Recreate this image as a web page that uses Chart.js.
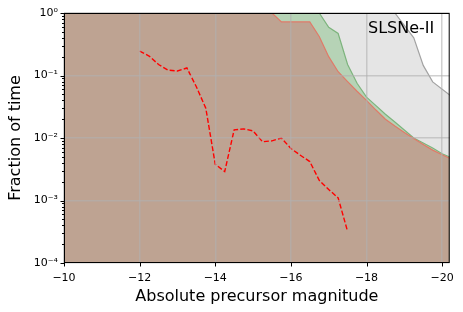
<!DOCTYPE html>
<html>
<head>
<meta charset="utf-8">
<script src="https://cdn.jsdelivr.net/npm/chart.js@4.4.1/dist/chart.umd.min.js"></script>
<style>
  html, body { margin: 0; padding: 0; background: #fff; }
  #wrap { width: 463px; height: 312px; }
</style>
</head>
<body>
<div id="wrap"><canvas id="chart"></canvas></div>
<script>
// Tick values / labels
const xTicks = [-10, -12, -14, -16, -18, -20];
const xTickLabels = ['−10', '−12', '−14', '−16', '−18', '−20'];
const yMajorTicks = [1e-4, 1e-3, 1e-2, 1e-1, 1];
const yTickLabels = ['10⁻⁴', '10⁻³', '10⁻²', '10⁻¹', '10⁰'];

// Red dashed curve
const precursorMag = [-12, -12.25, -12.5, -12.75, -13, -13.25, -13.5, -13.75, -14, -14.25, -14.5, -14.75,
    -15, -15.25, -15.5, -15.75, -16, -16.25, -16.5, -16.75, -17, -17.25, -17.5];
const precursorFrac = [0.245, 0.205, 0.15, 0.122, 0.118, 0.132, 0.066, 0.030, 0.0038, 0.0029, 0.0135, 0.014,
    0.013, 0.0087, 0.009, 0.010, 0.0068, 0.0053, 0.0042, 0.0021, 0.0015, 0.0011, 0.00032];

// Brown (red) area
const redAreaMag = [-10, -15.5, -15.75, -16.5, -16.75, -17, -17.25, -17.5, -17.75, -18, -18.25, -18.5,
    -18.75, -19, -19.25, -19.5, -19.75, -20, -20.25];
const redAreaFrac = [1, 1, 0.72, 0.72, 0.42, 0.2, 0.115, 0.08, 0.056, 0.040, 0.028, 0.020,
    0.0155, 0.0123, 0.0098, 0.0079, 0.0064, 0.0054, 0.0046];

// Green area
const greenAreaMag = [-10, -16.75, -17, -17.25, -17.5, -17.75, -18, -18.25, -18.5, -18.75, -19, -19.25,
    -19.5, -19.75, -20, -20.25];
const greenAreaFrac = [1, 1, 0.59, 0.47, 0.15, 0.075, 0.045, 0.033, 0.024, 0.018, 0.0134, 0.010,
    0.0083, 0.0069, 0.0056, 0.0048];

// Gray area
const grayAreaMag = [-10, -18.75, -19.25, -19.5, -19.75, -20.25];
const grayAreaFrac = [1, 1, 0.40, 0.145, 0.079, 0.046];

const toPoints = (xs, ys) => xs.map((x, i) => ({ x: x, y: ys[i] }));

const yAllTicks = [];
yMajorTicks.forEach((v, i) => {
    yAllTicks.push({ value: v, major: true });
    if (i < yMajorTicks.length - 1) {
        for (let k = 2; k <= 9; k++) yAllTicks.push({ value: v * k, major: false });
    }
});

const FONT = 'DejaVu Sans';
const gridColor = 'rgba(176, 176, 176, 0.6)';

// spines, tick marks, label
const framePlugin = {
    id: 'frame',
    afterDraw(chart) {
        const { ctx, chartArea: a, scales } = chart;
        ctx.save();
        ctx.strokeStyle = '#000';
        ctx.lineWidth = 1;
        // tick marks
        ctx.beginPath();
        yAllTicks.forEach(t => {
            const py = Math.round(scales.y.getPixelForValue(t.value)) + 0.5;
            const len = t.major ? 3.5 : 2;
            ctx.moveTo(a.left, py);
            ctx.lineTo(a.left - len, py);
        });
        xTicks.forEach(v => {
            const px = Math.round(scales.x.getPixelForValue(v)) + 0.5;
            ctx.moveTo(px, a.bottom);
            ctx.lineTo(px, a.bottom + 3.5);
        });
        ctx.stroke();
        ctx.strokeRect(a.left + 0.5, a.top + 0.5, a.right - a.left - 1, a.bottom - a.top - 1);

        ctx.fillStyle = '#000';
        ctx.font = '16px "' + FONT + '"';
        ctx.textAlign = 'left';
        ctx.textBaseline = 'alphabetic';
        ctx.fillText('SLSNe-II', 368, 33);
        ctx.restore();
    }
};

new Chart(document.getElementById('chart'), {
    type: 'line',
    data: {
        datasets: [
            {
                data: toPoints(precursorMag, precursorFrac),
                borderColor: '#ff0000',
                borderWidth: 1.4,
                borderDash: [5, 2.2],
                fill: false,
                pointRadius: 0
            },
            {
                data: toPoints(redAreaMag, redAreaFrac),
                borderColor: '#e07a68',
                backgroundColor: '#bea392',
                borderWidth: 1.2,
                fill: 'start',
                pointRadius: 0
            },
            {
                data: toPoints(greenAreaMag, greenAreaFrac),
                borderColor: '#7db47d',
                backgroundColor: '#b6d3b6',
                borderWidth: 1.2,
                fill: 'start',
                pointRadius: 0
            },
            {
                data: toPoints(grayAreaMag, grayAreaFrac),
                borderColor: '#a3a3a3',
                backgroundColor: '#e5e5e5',
                borderWidth: 1.2,
                fill: 'start',
                pointRadius: 0
            }
        ]
    },
    options: {
        responsive: true,
        maintainAspectRatio: false,
        animation: false,
        layout: { padding: { top: 13, right: 13, left: 0, bottom: 0 } },
        plugins: {
            legend: { display: false },
            tooltip: { enabled: false }
        },
        scales: {
            x: {
                type: 'linear',
                reverse: true,
                min: -20.2,
                max: -10,
                afterBuildTicks: (scale) => {
                    scale.ticks = xTicks.map(v => ({ value: v, major: true }));
                },
                afterFit: (scale) => { scale.height = 49; },
                grid: { z: 1, color: gridColor, lineWidth: 1.5, drawTicks: false },
                border: { display: false },
                ticks: {
                    autoSkip: false,
                    maxRotation: 0,
                    padding: 9,
                    color: '#000',
                    font: { family: FONT, size: 11 },
                    callback: (v) => {
                        const i = xTicks.indexOf(v);
                        return i >= 0 ? xTickLabels[i] : '';
                    }
                },
                title: {
                    display: true,
                    text: 'Absolute precursor magnitude',
                    color: '#000',
                    font: { family: FONT, size: 16 },
                    padding: { top: 0, bottom: 6 }
                }
            },
            y: {
                type: 'logarithmic',
                min: 1e-4,
                max: 1,
                afterBuildTicks: (scale) => {
                    scale.ticks = yAllTicks.map(t => ({ value: t.value, major: t.major }));
                },
                afterFit: (scale) => { scale.width = 64; },
                grid: {
                    z: 1,
                    lineWidth: 1.5,
                    drawTicks: false,
                    color: (c) => (c.tick && c.tick.major ? gridColor : 'rgba(0,0,0,0)')
                },
                border: { display: false },
                ticks: {
                    autoSkip: false,
                    padding: 6,
                    color: '#000',
                    font: { family: FONT, size: 11 },
                    callback: (v) => {
                        const i = yMajorTicks.findIndex(m => Math.abs(m - v) / m < 1e-6);
                        return i >= 0 ? yTickLabels[i] : '';
                    }
                },
                title: {
                    display: true,
                    text: 'Fraction of time',
                    color: '#000',
                    font: { family: FONT, size: 16 },
                    padding: { top: 6, bottom: 0 }
                }
            }
        }
    },
    plugins: [framePlugin]
});
</script>
</body>
</html>
